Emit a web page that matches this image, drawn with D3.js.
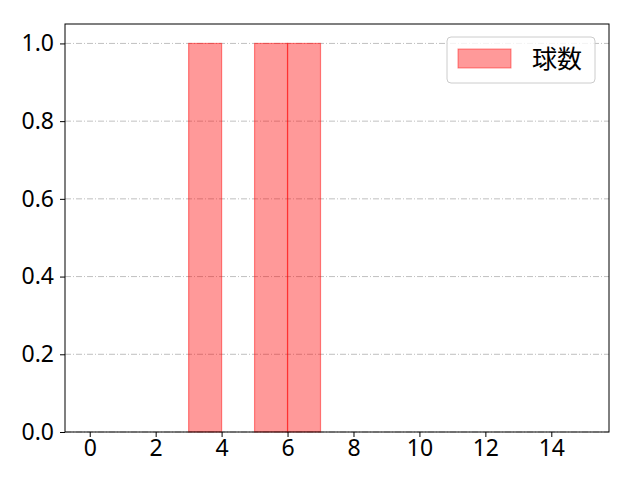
<!DOCTYPE html>
<html>
<head>
<meta charset="utf-8">
<script src="https://cdn.jsdelivr.net/npm/d3@7"></script>
<style>
  body { margin: 0; background: #fff; }
  .tick text { font-family: "Noto Sans", sans-serif; font-size: 23px; }
  .legend-text { font-family: "Noto Sans CJK JP", sans-serif; font-size: 25px; }
</style>
</head>
<body>
<svg width="640" height="480"></svg>
<script>
// histogram bins (left edge, right edge) and counts
var binStarts = [3, 5, 6];
var binEnds = [4, 6, 7];
var counts = [1, 1, 1];
var seriesName = "球数";
var xTicks = [0, 2, 4, 6, 8, 10, 12, 14];
var yTicks = [0.0, 0.2, 0.4, 0.6, 0.8, 1.0];

var svg = d3.select("svg");
var margin = {left: 65, right: 31, top: 24, bottom: 48};
var width = 640 - margin.left - margin.right;
var height = 480 - margin.top - margin.bottom;

var x = d3.scaleLinear().domain([-0.75, 15.75]).range([0, width]);
var y = d3.scaleLinear().domain([0, 1.05]).range([height, 0]);

var g = svg.append("g")
    .attr("transform", "translate(" + margin.left + "," + margin.top + ")");

// GRID
g.selectAll(".grid")
    .data(yTicks)
    .enter()
    .append("line")
    .attr("x1", 0)
    .attr("x2", width)
    .attr("y1", function(d) { return y(d); })
    .attr("y2", function(d) { return y(d); })
    .attr("stroke", "#b0b0b0")
    .attr("stroke-width", 0.8)
    .attr("stroke-dasharray", "6,2,1,2");

// BARS
var bars = binStarts.map(function(s, i) { return {x0: s, x1: binEnds[i], value: counts[i]}; });
g.selectAll(".bar")
    .data(bars)
    .enter()
    .append("rect")
    .attr("x", function(d) { return x(d.x0); })
    .attr("width", function(d) { return x(d.x1) - x(d.x0); })
    .attr("y", function(d) { return y(d.value); })
    .attr("height", function(d) { return y(0) - y(d.value); })
    .attr("fill", "rgba(255,0,0,0.4)")
    .attr("stroke", "rgba(255,0,0,0.45)")
    .attr("stroke-width", 1.2);

// AXES
var xAxis = d3.axisBottom(x).tickValues(xTicks).tickSize(5).tickPadding(3)
    .tickFormat(d3.format("d"));
var yAxis = d3.axisLeft(y).tickValues(yTicks).tickSize(5).tickPadding(6)
    .tickFormat(d3.format(".1f"));

var gx = g.append("g").attr("transform", "translate(0," + height + ")").call(xAxis);
var gy = g.append("g").call(yAxis);
[gx, gy].forEach(function(a) {
    a.select(".domain").remove();
    a.selectAll(".tick line").attr("stroke", "#000").attr("stroke-width", 1);
    a.selectAll(".tick text").attr("fill", "#000");
});

// FRAME
g.append("rect")
    .attr("width", width)
    .attr("height", height)
    .attr("fill", "none")
    .attr("stroke", "#000")
    .attr("stroke-width", 1);

// LEGEND
var legend = svg.append("g").attr("transform", "translate(447,37)");
legend.append("rect")
    .attr("width", 148).attr("height", 46)
    .attr("rx", 4)
    .attr("fill", "rgba(255,255,255,0.8)")
    .attr("stroke", "#cccccc");
legend.append("rect")
    .attr("x", 11).attr("y", 12)
    .attr("width", 53).attr("height", 19)
    .attr("fill", "rgba(255,0,0,0.4)")
    .attr("stroke", "rgba(255,0,0,0.45)");
legend.append("text")
    .attr("class", "legend-text")
    .attr("x", 85).attr("y", 31)
    .text(seriesName);
</script>
</body>
</html>
